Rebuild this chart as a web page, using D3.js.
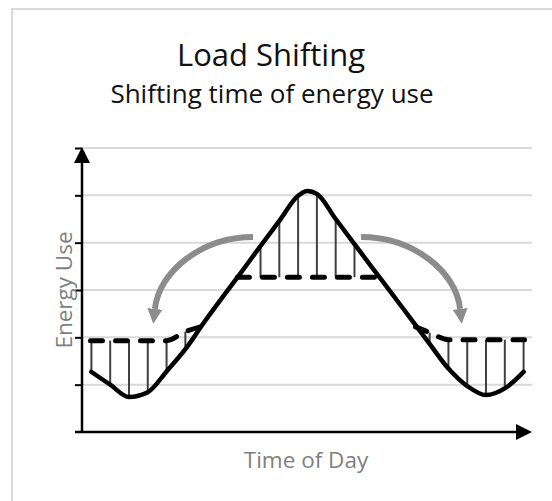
<!DOCTYPE html>
<html>
<head>
<meta charset="utf-8">
<script src="https://cdn.jsdelivr.net/npm/d3@7"></script>
<style>
  body { margin: 0; background: #fff; }
  svg { display: block; }
  text { font-family: "Open Sans", "Noto Sans", sans-serif; }
</style>
</head>
<body>
<svg id="chart"></svg>
<script>
// hours of the day (half-hour marks, plus the noon peak)
const hours = [0.5, 1.5, 2.5, 3.5, 4.5, 5.5, 6.5, 7.5, 8.5, 9.5, 10.5, 11.5, 12, 12.5,
               13.5, 14.5, 15.5, 16.5, 17.5, 18.5, 19.5, 20.5, 21.5, 22.5, 23.5];
// original energy use (solid line)
const baseLoad = [1.27, 1.00, 0.74, 0.84, 1.28, 1.75, 2.32, 2.86, 3.39, 3.93, 4.46, 4.99, 5.09, 5.03,
                  4.50, 3.97, 3.44, 2.92, 2.39, 1.86, 1.34, 0.97, 0.78, 0.92, 1.27];

// shifted energy use (dashed line), three pieces
const shiftMorningHours = [0.45, 4.5, 5.5, 6.3];
const shiftMorning = [1.93, 1.93, 2.12, 2.22];
const shiftPeakHours = [8.27, 15.8];
const shiftPeak = [3.27, 3.27];
const shiftEveningHours = [17.75, 18.5, 19.5, 23.55];
const shiftEvening = [2.22, 2.1, 1.95, 1.95];

// hours where the difference is marked with thin vertical lines
const dropHours = [0.5, 1.5, 2.5, 3.5, 4.5, 5.5, 9.5, 10.5, 11.5, 12.5, 13.5, 14.5,
                   18.5, 19.5, 20.5, 21.5, 22.5, 23.5];
const dropShifted = [1.93, 1.93, 1.93, 1.93, 1.93, 2.12, 3.27, 3.27, 3.27, 3.27, 3.27, 3.27,
                     2.1, 1.95, 1.95, 1.95, 1.95, 1.95];

const yTicks = [1, 2, 3, 4, 5, 6];

const width = 552, height = 501;
const svg = d3.select("#chart").attr("width", width).attr("height", height);

const x = d3.scaleLinear().domain([0, 24]).range([82, 533]);
const y = d3.scaleLinear().domain([0, 6]).range([432, 148]);

// outer frame
svg.append("rect")
    .attr("x", 12).attr("y", 9)
    .attr("width", 700).attr("height", 700)
    .attr("fill", "none")
    .attr("stroke", "#d9d9d9")
    .attr("stroke-width", 2);

// titles
svg.append("text")
    .attr("x", 271).attr("y", 66)
    .attr("text-anchor", "middle")
    .attr("font-size", 31)
    .attr("fill", "#111")
    .text("Load Shifting");
svg.append("text")
    .attr("x", 272).attr("y", 103)
    .attr("text-anchor", "middle")
    .attr("font-size", 26)
    .attr("fill", "#111")
    .text("Shifting time of energy use");

// markers
const defs = svg.append("defs");
function arrowMarker(id, color, size) {
    defs.append("marker")
        .attr("id", id)
        .attr("viewBox", "0 -5 10 10")
        .attr("refX", 0)
        .attr("refY", 0)
        .attr("orient", "auto")
        .attr("markerUnits", "userSpaceOnUse")
        .attr("markerWidth", size)
        .attr("markerHeight", size)
        .append("path")
        .attr("d", "M 0,-5 L 10,0 L 0,5 Z")
        .attr("fill", color);
}
arrowMarker("axisarrow", "#000", 16);
arrowMarker("grayarrow", "#8c8c8c", 15);

// gridlines
svg.append("g")
    .selectAll("line")
    .data(yTicks)
    .enter().append("line")
    .attr("x1", x(0)).attr("x2", 532)
    .attr("y1", d => y(d)).attr("y2", d => y(d))
    .attr("stroke", "#d9d9d9")
    .attr("stroke-width", 2);

// y ticks
const yAxis = svg.append("g")
    .attr("transform", `translate(${x(0)},0)`)
    .call(d3.axisLeft(y).tickValues(yTicks).tickSize(7).tickFormat(""));
yAxis.select(".domain").remove();
yAxis.selectAll("line").attr("stroke", "#000").attr("stroke-width", 2);

// axis lines with arrowheads
svg.append("line")
    .attr("x1", x(0)).attr("y1", y(0) + 1)
    .attr("x2", x(0)).attr("y2", 163)
    .attr("stroke", "#000").attr("stroke-width", 2.5)
    .attr("marker-end", "url(#axisarrow)");
svg.append("line")
    .attr("x1", 75).attr("y1", y(0))
    .attr("x2", 516).attr("y2", y(0))
    .attr("stroke", "#000").attr("stroke-width", 2.5)
    .attr("marker-end", "url(#axisarrow)");

// axis labels
svg.append("text")
    .attr("transform", `translate(72,290) rotate(-90)`)
    .attr("text-anchor", "middle")
    .attr("font-size", 22.5)
    .attr("fill", "#7f7f7f")
    .text("Energy Use");
svg.append("text")
    .attr("x", 306).attr("y", 468)
    .attr("text-anchor", "middle")
    .attr("font-size", 22.5)
    .attr("fill", "#7f7f7f")
    .text("Time of Day");

// vertical difference lines
const baseAt = h => baseLoad[hours.indexOf(h)];
svg.append("g")
    .selectAll("line")
    .data(dropHours)
    .enter().append("line")
    .attr("x1", d => x(d)).attr("x2", d => x(d))
    .attr("y1", (d, i) => y(dropShifted[i]))
    .attr("y2", d => y(baseAt(d)))
    .attr("stroke", "#404040")
    .attr("stroke-width", 2);

// dashed shifted load
const line = d3.line()
    .x(d => x(d[0]))
    .y(d => y(d[1]))
    .curve(d3.curveMonotoneX);

[[shiftMorningHours, shiftMorning], [shiftPeakHours, shiftPeak], [shiftEveningHours, shiftEvening]]
    .forEach(([hh, vv]) => {
        svg.append("path")
            .datum(d3.zip(hh, vv))
            .attr("d", line)
            .attr("fill", "none")
            .attr("stroke", "#000")
            .attr("stroke-width", 5)
            .attr("stroke-linecap", "round")
            .attr("stroke-dasharray", "12,13");
    });

// original load curve
svg.append("path")
    .datum(d3.zip(hours, baseLoad))
    .attr("d", line)
    .attr("fill", "none")
    .attr("stroke", "#000")
    .attr("stroke-width", 4.5)
    .attr("stroke-linejoin", "round")
    .attr("stroke-linecap", "round");

// gray arrows showing the shift
function shiftArrow(h0, v0, c1h, c1v, c2h, c2v, h1, v1) {
    const p = d3.path();
    p.moveTo(x(h0), y(v0));
    p.bezierCurveTo(x(c1h), y(c1v), x(c2h), y(c2v), x(h1), y(v1));
    svg.append("path")
        .attr("d", p.toString())
        .attr("fill", "none")
        .attr("stroke", "#8c8c8c")
        .attr("stroke-width", 6)
        .attr("marker-end", "url(#grayarrow)");
}
shiftArrow(9.1, 4.12, 6.4, 4.12, 4.1, 3.4, 3.88, 2.6);
shiftArrow(14.85, 4.12, 17.6, 4.12, 19.9, 3.4, 20.12, 2.6);
</script>
</body>
</html>
